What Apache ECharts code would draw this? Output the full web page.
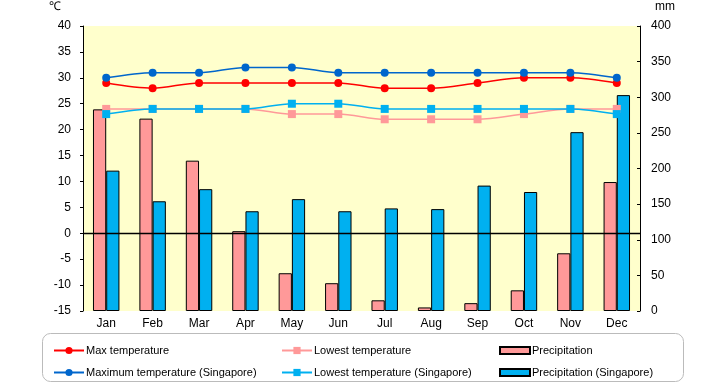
<!DOCTYPE html>
<html><head><meta charset="utf-8">
<script src="https://cdn.jsdelivr.net/npm/echarts@6/dist/echarts.min.js"></script>
<style>html,body{margin:0;padding:0;background:#fff}#c{width:720px;height:385px}</style>
</head><body><div id="c"></div>
<script>
const months = ['Jan','Feb','Mar','Apr','May','Jun','Jul','Aug','Sep','Oct','Nov','Dec'];
const maxTemp = [29,28,29,29,29,29,28,28,29,30,30,29];
const lowTemp = [24,24,24,24,23,23,22,22,22,23,24,24];
const precip = [283,270,211,112,53,39,15,5,11,29,81,181];
const maxTempSg = [30,31,31,32,32,31,31,31,31,31,31,30];
const lowTempSg = [23,24,24,24,25,25,24,24,24,24,24,23];
const precipSg = [197,154,171,140,157,140,144,143,176,167,251,303];
const tempTicks = {min:-15, max:40, interval:5};
const mmTicks = {min:0, max:400, interval:50};

const font = 'Liberation Sans';
const chart = echarts.init(document.getElementById('c'));
const names = ['Max temperature','Lowest temperature','Precipitation','Maximum temperature (Singapore)','Lowest temperature (Singapore)','Precipitation (Singapore)'];
const legPos = [[48,340],[276,340],[494,340],[48,362],[276,362],[494,362]];
const isBar = [false,false,true,false,false,true];
const legends = names.map((n,i)=>({
  data:[isBar[i] ? {name:n, icon:'rect'} : n], left:legPos[i][0], top:legPos[i][1],
  itemWidth:30, itemHeight:isBar[i]?7:9, itemGap:2,
  textStyle:{fontFamily:font,fontSize:11,color:'#000',padding:[0,0,0,-3]}, selectedMode:false
}));
chart.setOption({
  animation:false,
  grid:{left:83,right:80,top:26,bottom:74,show:true,backgroundColor:'#FFFFCC',borderWidth:0},
  legend: legends,
  graphic:[
    {type:'rect',shape:{x:42.5,y:333.5,width:641,height:48,r:8},style:{fill:'none',stroke:'#bbb',lineWidth:1}},
    {type:'text',left:49,top:1,style:{text:'℃',font:'12px '+font,fill:'#000'}},
    {type:'text',left:655,top:1,style:{text:'mm',font:'12px '+font,fill:'#000'}}
  ],
  xAxis:{type:'category',data:months,axisLine:{show:false},axisTick:{show:false},
    axisLabel:{color:'#000',fontFamily:font,fontSize:12,margin:7}},
  yAxis:[
    {type:'value',min:tempTicks.min,max:tempTicks.max,interval:tempTicks.interval,
     axisLine:{show:true,lineStyle:{color:'#000',width:1}},axisTick:{show:true,length:3,lineStyle:{color:'#000'}},
     splitLine:{show:false},axisLabel:{color:'#000',fontFamily:font,fontSize:12,margin:12}},
    {type:'value',min:mmTicks.min,max:mmTicks.max,interval:mmTicks.interval,position:'right',
     axisLine:{show:true,lineStyle:{color:'#000',width:1}},axisTick:{show:true,inside:true,length:3,lineStyle:{color:'#000'}},
     splitLine:{show:false},axisLabel:{color:'#000',fontFamily:font,fontSize:12,margin:11}}
  ],
  series:[
    {name:'Precipitation',type:'bar',yAxisIndex:1,data:precip,barGap:'0%',barCategoryGap:'43%',
     itemStyle:{color:'#FF9999',borderColor:'#000',borderWidth:1}},
    {name:'Precipitation (Singapore)',type:'bar',yAxisIndex:1,data:precipSg,
     itemStyle:{color:'#00B0F0',borderColor:'#000',borderWidth:1}},
    {name:'Max temperature',type:'line',yAxisIndex:0,data:maxTemp,smooth:0.3,symbol:'circle',symbolSize:8,
     lineStyle:{color:'#FF0000',width:1.5},itemStyle:{color:'#FF0000'},z:3,
     markLine:{silent:true,symbol:'none',label:{show:false},lineStyle:{color:'#000',width:1.3,type:'solid'},data:[{yAxis:0}]}},
    {name:'Lowest temperature',type:'line',yAxisIndex:0,data:lowTemp,smooth:0.3,symbol:'rect',symbolSize:8,
     lineStyle:{color:'#FF9999',width:1.5},itemStyle:{color:'#FF9999'},z:3},
    {name:'Maximum temperature (Singapore)',type:'line',yAxisIndex:0,data:maxTempSg,smooth:0.3,symbol:'circle',symbolSize:8,
     lineStyle:{color:'#0066CC',width:1.5},itemStyle:{color:'#0066CC'},z:4},
    {name:'Lowest temperature (Singapore)',type:'line',yAxisIndex:0,data:lowTempSg,smooth:0.3,symbol:'rect',symbolSize:8,
     lineStyle:{color:'#00B0F0',width:1.5},itemStyle:{color:'#00B0F0'},z:4}
  ]
});
</script></body></html>
